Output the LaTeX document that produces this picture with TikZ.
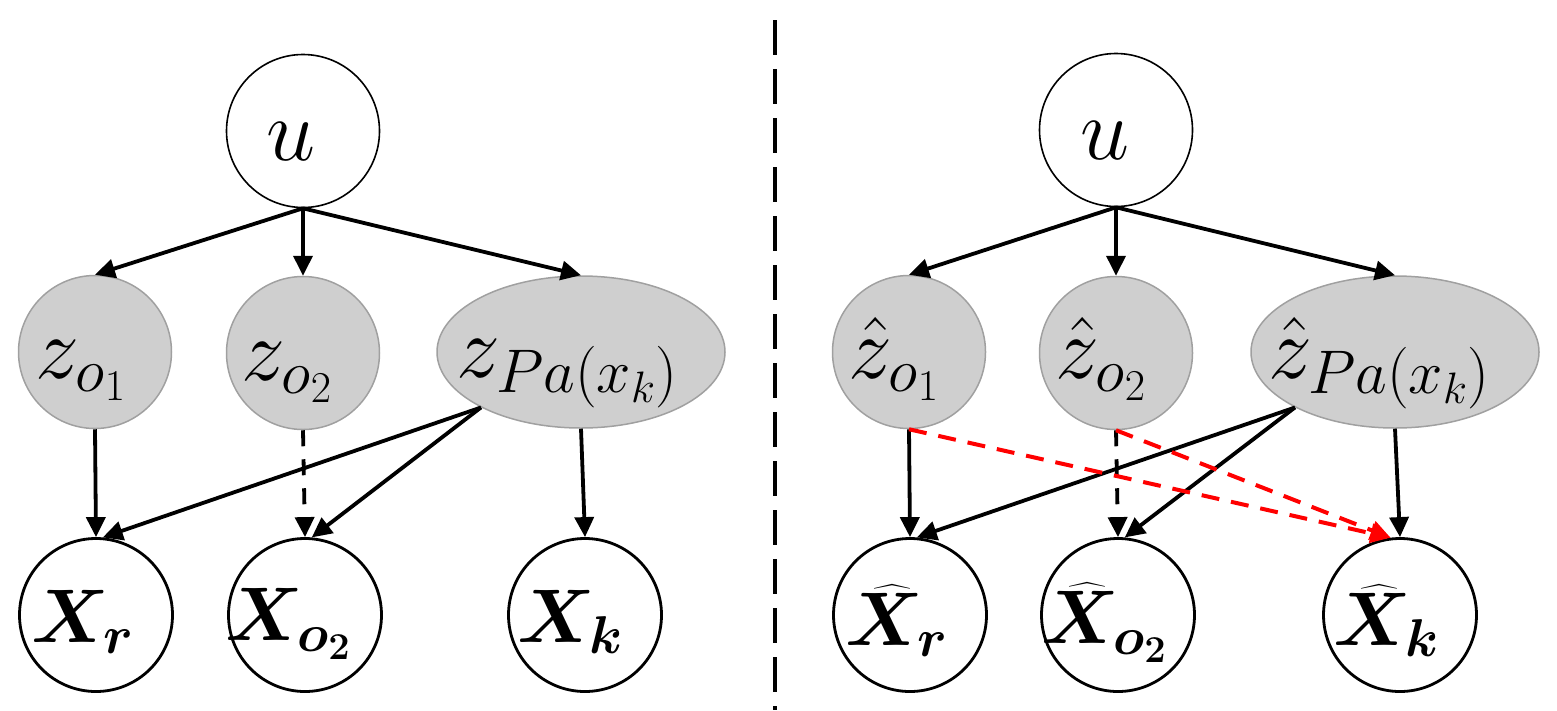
\documentclass[tikz,border=0pt]{standalone}
\usepackage{fix-cm}
\usepackage{amsmath}
\usepackage{exscale}
\usepackage{bm}
\usetikzlibrary{arrows.meta,shapes.geometric}
\definecolor{zfill}{RGB}{207,207,207}
\definecolor{zdraw}{RGB}{160,160,160}
\definecolor{redarrow}{RGB}{255,0,0}
\newcommand{\hX}{\bm{\widehat{X}}}
\begin{document}
\begin{tikzpicture}[x=1pt,y=-1pt,
 unode/.style={circle,draw=black,line width=1.6pt,minimum size=153pt,inner sep=0pt,fill=white},
 znode/.style={circle,draw=zdraw,line width=1.5pt,fill=zfill,minimum size=153pt,inner sep=0pt},
 zell/.style={ellipse,draw=zdraw,line width=1.5pt,fill=zfill,minimum width=288pt,minimum height=152pt,inner sep=0pt},
 xnode/.style={circle,draw=black,line width=2.8pt,minimum size=153pt,inner sep=0pt,fill=white},
 lbl/.style={anchor=base,inner sep=0pt,font=\fontsize{88}{100}\selectfont},
 xlbl/.style={anchor=base,inner sep=0pt,font=\fontsize{76}{90}\selectfont},
 arr/.style={line width=3.8pt,-{Triangle[length=20pt,width=19pt]}},
 darr/.style={arr,dash pattern=on 16pt off 13pt},
 rarr/.style={line width=4pt,draw=redarrow,dash pattern=on 18pt off 12pt,-{Triangle[length=20pt,width=19pt]}},
 divider/.style={line width=4pt,dash pattern=on 35pt off 14pt}
]
\useasboundingbox (0,0) rectangle (1557,710);

% divider
\coordinate (dtop) at (775,20);
\coordinate (dbot) at (775,710);
\draw[divider] (dtop) -- (dbot);

% ---------- left panel ----------
\node[unode] (u1) at (303,131) {};
\node[znode] (zo1) at (95,352) {};
\node[znode] (zo2) at (303,353) {};
\node[zell] (zpa) at (581,352) {};
\node[xnode] (xr) at (96,615) {};
\node[xnode] (xo2) at (305,615) {};
\node[xnode] (xk) at (585,615) {};

\node[lbl] (u1t) at (291,160) {$u$};
\node[lbl] (zo1t) at (81,378) {$z_{o_1}$};
\node[lbl] (zo2t) at (287,380) {$z_{o_2}$};
\node[lbl] (zpat) at (567,377) {$z_{Pa(x_k)}$};
\node[xlbl] (xrt) at (83,642) {$\bm{X_r}$};
\node[xlbl] (xo2t) at (288,640) {$\bm{X_{o_2}}$};
\node[xlbl] (xkt) at (570,642) {$\bm{X_k}$};

\draw[arr] (u1.south) -- (zo1.north);
\draw[arr] (u1.south) -- (zo2.north);
\draw[arr] (u1.south) -- (zpa.north);
\draw[arr] (zo1.south) -- (xr.north);
\draw[darr] (zo2.south) -- (xo2.north);
\draw[arr] (zpa.south) -- (xk.north);
\draw[arr] (zpa.209) -- (xr.85);
\draw[arr] (zpa.209) -- (xo2.85);

% ---------- right panel ----------
\node[unode] (u2) at (1116,130) {};
\node[znode] (zo1h) at (909,352) {};
\node[znode] (zo2h) at (1116,353) {};
\node[zell] (zpah) at (1395,352) {};
\node[xnode] (xrh) at (910,615) {};
\node[xnode] (xo2h) at (1118,615) {};
\node[xnode] (xkh) at (1400,615) {};

\node[lbl] (u2t) at (1105,159) {$u$};
\node[lbl] (zo1ht) at (894,378) {$\hat{z}_{o_1}$};
\node[lbl] (zo2ht) at (1101,378) {$\hat{z}_{o_2}$};
\node[lbl] (zpaht) at (1379,378) {$\hat{z}_{Pa(x_k)}$};
\node[xlbl] (xrht) at (897,645) {$\hX_{\bm{r}}$};
\node[xlbl] (xo2ht) at (1104,643) {$\hX_{\bm{o_2}}$};
\node[xlbl] (xkht) at (1386,645) {$\hX_{\bm{k}}$};

\draw[arr] (u2.south) -- (zo1h.north);
\draw[arr] (u2.south) -- (zo2h.north);
\draw[arr] (u2.south) -- (zpah.north);
\draw[arr] (zo1h.south) -- (xrh.north);
\draw[darr] (zo2h.south) -- (xo2h.north);
\draw[arr] (zpah.south) -- (xkh.north);
\draw[arr] (zpah.209) -- (xrh.85);
\draw[arr] (zpah.209) -- (xo2h.85);
\draw[rarr] (zo1h.south) -- (xkh.97);
\draw[rarr] (zo2h.south) -- (xkh.97);
\end{tikzpicture}
\end{document}
